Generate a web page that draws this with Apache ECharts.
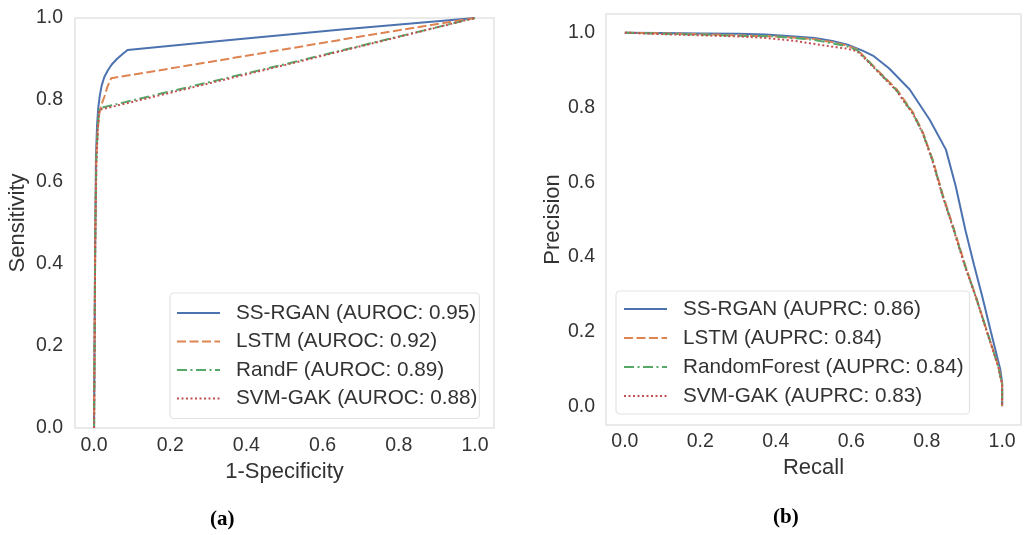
<!DOCTYPE html>
<html>
<head>
<meta charset="utf-8">
<script src="https://cdn.jsdelivr.net/npm/echarts@6/dist/echarts.min.js"></script>
<style>
  html, body { margin: 0; padding: 0; background: #fff; }
  #chart { width: 1024px; height: 535px; }
</style>
</head>
<body>
<div id="chart"></div>
<script>
// (a) ROC curves: false positive rate (1-Specificity) vs sensitivity
const rocSsFpr = [0, 0.003, 0.005, 0.008, 0.011, 0.015, 0.02, 0.027, 0.036, 0.046, 0.06, 0.075, 0.088, 0.35, 0.65, 1.0]
const rocSsTpr = [0, 0.45, 0.66, 0.74, 0.78, 0.81, 0.835, 0.856, 0.872, 0.886, 0.9, 0.912, 0.922, 0.946, 0.972, 1.0]
const rocLstmFpr = [0, 0.003, 0.006, 0.01, 0.014, 0.02, 0.027, 0.035, 0.045, 0.35, 0.7, 1.0]
const rocLstmTpr = [0, 0.45, 0.66, 0.73, 0.768, 0.79, 0.808, 0.832, 0.853, 0.9, 0.955, 1.0]
const rocRfFpr = [0, 0.003, 0.006, 0.01, 0.014, 0.5, 1.0]
const rocRfTpr = [0, 0.45, 0.66, 0.74, 0.78, 0.887, 1.0]
const rocSvmFpr = [0, 0.003, 0.006, 0.01, 0.014, 0.5, 1.0]
const rocSvmTpr = [0, 0.44, 0.65, 0.735, 0.776, 0.885, 1.0]

// (b) precision-recall curves
const prSsRecall = [0, 0.1, 0.2, 0.3, 0.373, 0.45, 0.503, 0.55, 0.59, 0.63, 0.66, 0.7, 0.755, 0.808, 0.851, 0.877, 0.903, 0.925, 0.947, 0.97, 0.995, 1.0, 1.0]
const prSsPrecision = [1.0, 0.999, 0.998, 0.997, 0.995, 0.99, 0.986, 0.978, 0.968, 0.952, 0.937, 0.905, 0.848, 0.767, 0.687, 0.589, 0.47, 0.38, 0.295, 0.2, 0.099, 0.064, 0.0]
const prLstmRecall = [0, 0.1, 0.2, 0.3, 0.4, 0.5, 0.547, 0.59, 0.616, 0.642, 0.677, 0.721, 0.747, 0.764, 0.79, 0.816, 0.843, 0.869, 0.903, 0.93, 0.96, 0.99, 1.0, 1.0]
const prLstmPrecision = [1.0, 0.998, 0.996, 0.993, 0.99, 0.983, 0.975, 0.965, 0.955, 0.928, 0.892, 0.848, 0.81, 0.786, 0.733, 0.66, 0.565, 0.485, 0.375, 0.295, 0.2, 0.108, 0.06, 0.0]
const prRfRecall = [0, 0.1, 0.2, 0.3, 0.4, 0.5, 0.547, 0.59, 0.616, 0.642, 0.677, 0.72, 0.745, 0.763, 0.789, 0.815, 0.842, 0.868, 0.902, 0.93, 0.96, 0.99, 1.0, 1.0]
const prRfPrecision = [1.0, 0.997, 0.995, 0.992, 0.99, 0.981, 0.972, 0.963, 0.953, 0.927, 0.89, 0.846, 0.81, 0.785, 0.733, 0.66, 0.565, 0.485, 0.375, 0.294, 0.2, 0.106, 0.058, 0.0]
const prSvmRecall = [0, 0.1, 0.2, 0.3, 0.373, 0.45, 0.547, 0.59, 0.616, 0.642, 0.677, 0.72, 0.745, 0.763, 0.789, 0.815, 0.842, 0.868, 0.902, 0.93, 0.96, 0.99, 1.0, 1.0]
const prSvmPrecision = [1.0, 0.996, 0.993, 0.99, 0.986, 0.978, 0.963, 0.957, 0.95, 0.925, 0.889, 0.845, 0.808, 0.784, 0.732, 0.658, 0.563, 0.483, 0.373, 0.293, 0.198, 0.105, 0.056, 0.0]

const rocNames = ['SS-RGAN (AUROC: 0.95)', 'LSTM (AUROC: 0.92)', 'RandF (AUROC: 0.89)', 'SVM-GAK (AUROC: 0.88)']
const prNames = ['SS-RGAN (AUPRC: 0.86)', 'LSTM (AUPRC: 0.84)', 'RandomForest (AUPRC: 0.84)', 'SVM-GAK (AUPRC: 0.83)']

const colors = ['#4c72b0', '#dd8452', '#55a868', '#c44e52']
const dashes = ['solid', [9, 3.5], [10, 3.5, 2, 3.5], [2, 2.5]]

const font = 'Liberation Sans, Arial, sans-serif'
const textColor = '#333'

const zip = (xs, ys) => xs.map((x, i) => [x, ys[i]])

// only label the 0.2 steps (the axis runs from -0.05 to 1.05)
const tickFmt = (v) => {
  const k = v * 5
  return Math.abs(k - Math.round(k)) < 1e-6 ? v.toFixed(1) : ''
}

const makeSeries = (names, pairs, idx) => names.map((name, i) => ({
  type: 'line',
  name: name,
  xAxisIndex: idx,
  yAxisIndex: idx,
  data: zip(pairs[i][0], pairs[i][1]),
  symbol: 'none',
  showSymbol: false,
  smooth: false,
  color: colors[i],
  lineStyle: { color: colors[i], width: 2, type: dashes[i] },
  emphasis: { disabled: true }
}))

const rocPairs = [[rocSsFpr, rocSsTpr], [rocLstmFpr, rocLstmTpr], [rocRfFpr, rocRfTpr], [rocSvmFpr, rocSvmTpr]]
const prPairs = [[prSsRecall, prSsPrecision], [prLstmRecall, prLstmPrecision], [prRfRecall, prRfPrecision], [prSvmRecall, prSvmPrecision]]

const axisCommon = {
  type: 'value',
  splitLine: { show: false },
  axisLine: { show: false },
  axisTick: { show: false },
  nameLocation: 'middle',
  nameTextStyle: { fontFamily: font, fontSize: 22, color: textColor }
}

const labelStyle = { formatter: tickFmt, fontFamily: font, fontSize: 19.5, color: textColor }

const legendCommon = {
  orient: 'vertical',
  itemWidth: 43,
  itemHeight: 14,
  backgroundColor: '#fff',
  borderColor: '#e3e3e3',
  borderWidth: 1.2,
  borderRadius: 4,
  selectedMode: false,
  itemStyle: { opacity: 0 },
  textStyle: { fontFamily: font, fontSize: 20.7, color: textColor, lineHeight: 22, padding: [0, 0, 0, 11] }
}

const chart = echarts.init(document.getElementById('chart'), null, { renderer: 'canvas' })

chart.setOption({
  animation: false,
  backgroundColor: '#fff',
  grid: [
    { left: 75, top: 18, width: 419, height: 410, show: true, borderColor: '#e3e3e3', borderWidth: 1.5 },
    { left: 606, top: 14, width: 420, height: 411, show: true, borderColor: '#e3e3e3', borderWidth: 1.5 }
  ],
  xAxis: [
    Object.assign({}, axisCommon, {
      gridIndex: 0, min: -0.05, max: 1.05, splitNumber: 5,
      name: '1-Specificity', nameGap: 31,
      axisLabel: Object.assign({}, labelStyle, { margin: 8 })
    }),
    Object.assign({}, axisCommon, {
      gridIndex: 1, min: -0.05, max: 1.05, splitNumber: 5,
      name: 'Recall', nameGap: 29.5,
      axisLabel: Object.assign({}, labelStyle, { margin: 7 })
    })
  ],
  yAxis: [
    Object.assign({}, axisCommon, {
      gridIndex: 0, min: 0, max: 1, interval: 0.2,
      name: 'Sensitivity', nameGap: 46,
      axisLabel: Object.assign({}, labelStyle, { margin: 12 })
    }),
    Object.assign({}, axisCommon, {
      gridIndex: 1, min: -0.05, max: 1.05, splitNumber: 5,
      name: 'Precision', nameGap: 42,
      axisLabel: Object.assign({}, labelStyle, { margin: 11 })
    })
  ],
  legend: [
    Object.assign({}, legendCommon, {
      data: rocNames, left: 170, top: 293, itemGap: 6.5, padding: [9, 2, 9, 6]
    }),
    Object.assign({}, legendCommon, {
      data: prNames, left: 616, top: 291, itemGap: 7, padding: [7, 6, 7, 7]
    })
  ],
  graphic: [
    { type: 'text', left: 210, top: 509, style: { text: '(a)', font: 'bold 21px Liberation Serif, Times New Roman, serif', fill: '#000' } },
    { type: 'text', left: 773, top: 507, style: { text: '(b)', font: 'bold 21px Liberation Serif, Times New Roman, serif', fill: '#000' } }
  ],
  series: makeSeries(rocNames, rocPairs, 0).concat(makeSeries(prNames, prPairs, 1))
})

window.addEventListener('resize', () => chart.resize())
</script>
</body>
</html>
